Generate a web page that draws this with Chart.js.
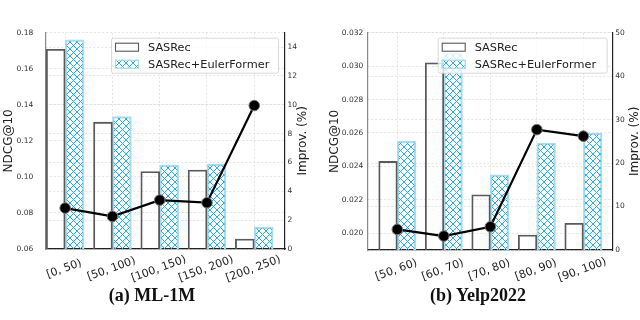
<!DOCTYPE html>
<html>
<head>
<meta charset="utf-8">
<script src="https://cdn.jsdelivr.net/npm/chart.js@4"></script>
<style>
html,body{margin:0;padding:0;background:#fff;}
#wrap{position:relative;width:640px;height:320px;overflow:hidden;background:#fff;}
.pane{position:absolute;top:0;width:320px;height:320px;}
.cap{position:absolute;top:285px;font-family:"Liberation Serif","DejaVu Serif",serif;font-weight:bold;font-size:18px;color:#111;transform:translateX(-50%);white-space:nowrap;}
</style>
</head>
<body>
<div id="wrap">
  <div class="pane" style="left:0"><canvas id="c1" width="320" height="320"></canvas></div>
  <div class="pane" style="left:320px"><canvas id="c2" width="320" height="320"></canvas></div>
  <div class="cap" style="left:152px">(a) ML-1M</div>
  <div class="cap" style="left:478px">(b) Yelp2022</div>
</div>
<script>
// ---------- data ----------
const seriesNames = ['SASRec', 'SASRec+EulerFormer'];
const lineName = 'Improv. (%)';

const mlCategories = ['[0, 50)', '[50, 100)', '[100, 150)', '[150, 200)', '[200, 250)'];
const mlSasrec = [0.1708, 0.1304, 0.1030, 0.1038, 0.0655];
const mlEuler  = [0.1760, 0.1335, 0.1065, 0.1071, 0.0722];
const mlImprov = [2.84, 2.26, 3.39, 3.21, 9.95];
const mlNdcgTicks = [0.06, 0.08, 0.10, 0.12, 0.14, 0.16, 0.18];
const mlImprovTicks = [0, 2, 4, 6, 8, 10, 12, 14];

const yelpCategories = ['[50, 60)', '[60, 70)', '[70, 80)', '[80, 90)', '[90, 100)'];
const yelpSasrec = [0.0243, 0.0302, 0.0223, 0.0199, 0.0206];
const yelpEuler  = [0.0255, 0.0308, 0.0235, 0.0254, 0.0260];
const yelpImprov = [4.74, 3.21, 5.35, 27.7, 26.2];
const yelpNdcgTicks = [0.020, 0.022, 0.024, 0.026, 0.028, 0.030, 0.032];
const yelpImprovTicks = [0, 10, 20, 30, 40, 50];

// ---------- styling helpers ----------
const FONT = '"DejaVu Sans", sans-serif';
const HATCH_COLOR = '#2aaee4';
const EF_EDGE = '#a9dcf0';
const SAS_EDGE = '#5a5a5a';

function hatchPattern(ctx) {
  const s = 7;
  const c = document.createElement('canvas');
  c.width = s; c.height = s;
  const g = c.getContext('2d');
  g.strokeStyle = HATCH_COLOR;
  g.lineWidth = 1;
  g.beginPath();
  g.moveTo(-1, -1); g.lineTo(s + 1, s + 1);
  g.moveTo(s + 1, -1); g.lineTo(-1, s + 1);
  g.stroke();
  return ctx.createPattern(c, 'repeat');
}

// custom drawing: rotated centered x labels, right-axis title, legend box
const extrasPlugin = {
  id: 'extras',
  afterDraw(chart, args, opts) {
    const ctx = chart.ctx;
    const area = chart.chartArea;
    const xs = chart.scales.x;
    // x tick labels
    ctx.save();
    ctx.fillStyle = '#222';
    ctx.font = '11px ' + FONT;
    ctx.textAlign = 'center';
    ctx.textBaseline = 'middle';
    opts.categories.forEach((lab, i) => {
      const px = xs.getPixelForValue(i);
      ctx.save();
      ctx.translate(px - 1, area.bottom + opts.labelDy);
      ctx.rotate(-20 * Math.PI / 180);
      ctx.fillText(lab, 0, 0);
      ctx.restore();
    });
    ctx.restore();
    // right axis title (reads bottom to top)
    ctx.save();
    ctx.fillStyle = '#222';
    ctx.font = '12px ' + FONT;
    ctx.textAlign = 'center';
    ctx.textBaseline = 'middle';
    ctx.translate(area.right + opts.rightTitleDx, (area.top + area.bottom) / 2);
    ctx.rotate(-Math.PI / 2);
    ctx.fillText(lineName, 0, 0);
    ctx.restore();
    // legend
    const w = opts.legendW, h = 35;
    const lx = area.right - opts.legendRight - w, ly = area.top + 5;
    ctx.save();
    ctx.fillStyle = 'rgba(255,255,255,0.8)';
    ctx.strokeStyle = '#d0d0d0';
    ctx.lineWidth = 0.8;
    ctx.beginPath();
    ctx.roundRect(lx + 0.5, ly + 0.5, w, h, 2);
    ctx.fill();
    ctx.stroke();
    ctx.strokeStyle = SAS_EDGE;
    ctx.lineWidth = 1.1;
    ctx.strokeRect(lx + 4.5, ly + 5.5, 23, 8);
    ctx.fillStyle = hatchPattern(ctx);
    ctx.fillRect(lx + 4, ly + 22, 24, 9);
    ctx.strokeStyle = EF_EDGE;
    ctx.lineWidth = 1.2;
    ctx.strokeRect(lx + 4.5, ly + 22.5, 23, 8);
    ctx.fillStyle = '#222';
    ctx.font = '11.3px ' + FONT;
    ctx.textAlign = 'left';
    ctx.textBaseline = 'middle';
    ctx.fillText(seriesNames[0], lx + 37, ly + 10);
    ctx.fillText(seriesNames[1], lx + 37, ly + 27);
    ctx.restore();
  }
};

function buildChart(canvasId, cfg) {
  const canvas = document.getElementById(canvasId);
  const ctx = canvas.getContext('2d');
  const pattern = hatchPattern(ctx);
  const gridStyle = { color: '#dcdcdc', lineWidth: 0.8, drawTicks: false, offset: false };
  return new Chart(ctx, {
    type: 'bar',
    data: {
      datasets: [
        {
          type: 'line',
          label: lineName,
          data: cfg.improv.map((v, i) => ({ x: i, y: v })),
          yAxisID: 'y2',
          xAxisID: 'x',
          borderColor: '#000',
          borderWidth: 2.2,
          pointRadius: 5.3,
          pointBackgroundColor: '#000',
          pointBorderColor: '#777',
          pointBorderWidth: 1,
          order: 0
        },
        {
          label: seriesNames[0],
          data: cfg.sasrec.map((v, i) => ({ x: i - 0.2, y: v })),
          backgroundColor: 'rgba(0,0,0,0)',
          borderColor: SAS_EDGE,
          borderWidth: 1.2,
          yAxisID: 'y',
          xAxisID: 'x',
          grouped: false,
          categoryPercentage: 1,
          barPercentage: 1,
          order: 1
        },
        {
          label: seriesNames[1],
          data: cfg.euler.map((v, i) => ({ x: i + 0.2, y: v })),
          backgroundColor: pattern,
          borderColor: EF_EDGE,
          borderWidth: 1.6,
          yAxisID: 'y',
          xAxisID: 'x',
          grouped: false,
          categoryPercentage: 1,
          barPercentage: 1,
          order: 2
        }
      ]
    },
    options: {
      responsive: false,
      animation: false,
      layout: { padding: { top: 32.7, left: 0, right: 0, bottom: 0 } },
      plugins: {
        legend: { display: false },
        tooltip: { enabled: false },
        extras: {
          categories: cfg.categories,
          labelDy: 20,
          rightTitleDx: cfg.rightTitleDx,
          legendW: cfg.legendW,
          legendRight: cfg.legendRight
        }
      },
      scales: {
        x: {
          type: 'linear',
          position: 'bottom',
          offset: false,
          min: cfg.xMin,
          max: cfg.xMax,
          afterBuildTicks: s => { s.ticks = cfg.categories.map((c, i) => ({ value: i })); },
          afterFit: s => { s.height = cfg.xHeight; },
          ticks: { display: false },
          grid: gridStyle,
          border: { color: '#222', width: 1.2, dash: [2, 2] }
        },
        y: {
          type: 'linear',
          position: 'left',
          min: cfg.yMin,
          max: cfg.yMax,
          afterBuildTicks: s => { s.ticks = cfg.yTicks.map(v => ({ value: v })); },
          afterFit: s => { s.width = cfg.yWidth; },
          ticks: {
            color: '#333',
            font: { family: FONT, size: 7.5 },
            padding: cfg.yPad,
            callback: v => v.toFixed(cfg.yDecimals)
          },
          title: {
            display: true,
            text: 'NDCG@10',
            color: '#222',
            font: { family: FONT, size: 12 },
            padding: { top: cfg.yTitlePad, bottom: 0 }
          },
          grid: gridStyle,
          border: { color: '#888', width: 1.2, dash: [2, 2] }
        },
        y2: {
          type: 'linear',
          position: 'right',
          min: cfg.y2Min,
          max: cfg.y2Max,
          afterBuildTicks: s => { s.ticks = cfg.y2Ticks.map(v => ({ value: v })); },
          afterFit: s => { s.width = cfg.y2Width; },
          ticks: {
            color: '#333',
            font: { family: FONT, size: 7.5 },
            padding: 2.5,
            callback: v => String(v)
          },
          grid: gridStyle,
          border: { color: '#222', width: 1.2, dash: [2, 2] }
        }
      }
    },
    plugins: [extrasPlugin]
  });
}

buildChart('c1', {
  categories: mlCategories, sasrec: mlSasrec, euler: mlEuler, improv: mlImprov,
  yTicks: mlNdcgTicks, y2Ticks: mlImprovTicks,
  xMin: -0.42, xMax: 4.65, yMin: 0.06, yMax: 0.18, y2Min: 0, y2Max: 15,
  yDecimals: 2, yWidth: 45.3, y2Width: 35, xHeight: 71, yPad: 12, yTitlePad: 2,
  rightTitleDx: 18, legendW: 167, legendRight: 7
});
buildChart('c2', {
  categories: yelpCategories, sasrec: yelpSasrec, euler: yelpEuler, improv: yelpImprov,
  yTicks: yelpNdcgTicks, y2Ticks: yelpImprovTicks,
  xMin: -0.645, xMax: 4.63, yMin: 0.019, yMax: 0.032, y2Min: 0, y2Max: 50,
  yDecimals: 3, yWidth: 47.3, y2Width: 27.3, xHeight: 70, yPad: 4, yTitlePad: 7.8,
  rightTitleDx: 22.3, legendW: 169, legendRight: 6
});
</script>
</body>
</html>
